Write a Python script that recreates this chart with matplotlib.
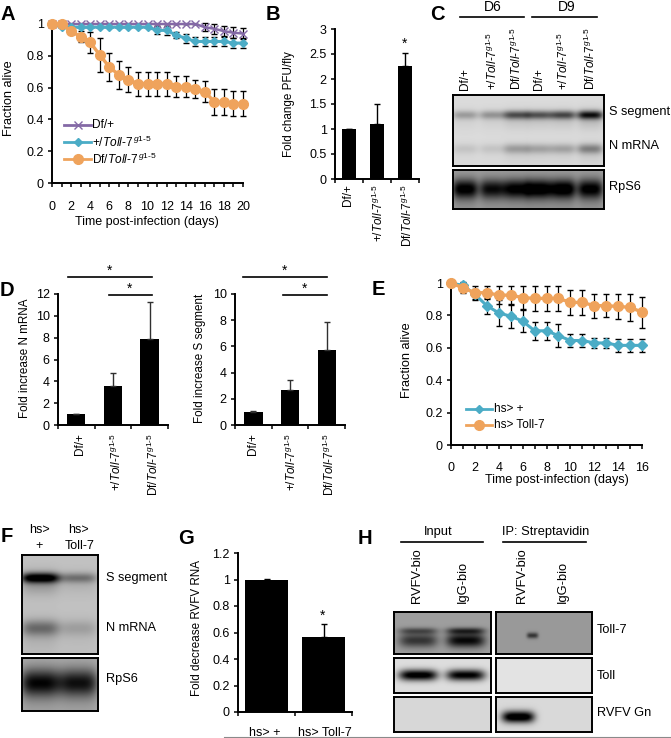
import numpy as np
import matplotlib
matplotlib.use('Agg')
import matplotlib.pyplot as plt
from matplotlib.lines import Line2D

plt.rcParams['font.family'] = ['Liberation Sans', 'DejaVu Sans']
plt.rcParams['mathtext.fontset'] = 'custom'
plt.rcParams['mathtext.rm'] = 'Liberation Sans'
plt.rcParams['mathtext.it'] = 'Liberation Sans:italic'
plt.rcParams['mathtext.bf'] = 'Liberation Sans:bold'

W, H = 671, 738

PURPLE = '#8469a6'
TEAL = '#4bacc6'
ORANGE = '#efa35c'

HET = '+/$\\mathit{Toll}$-$\\mathit{7}^{\\,g1\\text{-}5}$'
MUT = 'Df/$\\mathit{Toll}$-$\\mathit{7}^{\\,g1\\text{-}5}$'
HET2 = '+/$\\mathit{Toll}$-$\\mathit{7}^{g1\\text{-}5}$'
MUT2 = 'Df/$\\mathit{Toll}$-$\\mathit{7}^{g1\\text{-}5}$'

# panel A
days_a = list(range(21))
a_ctrl = [1]*16 + [.98, .97, .955, .945, .94]
a_ctrl_err = [0]*16 + [.025, .03, .03, .035, .035]
a_het = [1, .98, .98, .98, .98, .98, .98, .98, .98, .98, .98, .96, .96, .93, .91, .89, .89, .89, .89, .88, .88]
a_het_err = [0]*11 + [.025, .03, .02, .03, .03, .03, .03, .03, .03, .03]
a_mut = [1, 1, .955, .92, .885, .805, .73, .68, .65, .625, .625, .625, .625, .605, .605, .59, .575, .51, .51, .5, .5]
a_mut_err = [0, 0, .02, .035, .065, .11, .09, .09, .08, .075, .075, .075, .075, .065, .065, .055, .065, .08, .08, .08, .08]

# panel B
cats = ['Df/+', HET2, MUT2]
b_vals = [1.0, 1.1, 2.27]
b_err = [0.01, 0.4, 0.25]

# panel D
d1_vals = [1.0, 3.55, 7.9]
d1_err = [0.05, 1.25, 3.4]
d2_vals = [1.0, 2.65, 5.75]
d2_err = [0.05, 0.75, 2.1]

# panel E
days_e = list(range(17))
e_ctrl = [1, .985, .93, .86, .815, .795, .765, .705, .705, .675, .645, .645, .63, .63, .615, .615, .615]
e_ctrl_err = [0, .02, .035, .05, .08, .07, .07, .055, .055, .07, .04, .04, .03, .03, .04, .04, .04]
e_toll = [1, .97, .94, .94, .925, .925, .91, .905, .905, .905, .88, .88, .86, .86, .855, .85, .82]
e_toll_err = [0, .03, .04, .04, .055, .055, .07, .075, .075, .075, .075, .075, .075, .07, .08, .085, .095]

# panel G
g_cats = ['hs> +', 'hs> Toll-7']
g_vals = [1.0, 0.565]
g_err = [0.003, 0.1]

# blots: band strength per lane
c_lanes = [.08, .26, .42, .57, .73, .91]
c_s_band = [.22, .25, .5, .48, .52, .72]
c_n_band = [.08, .08, .22, .2, .2, .32]
c_rps6 = [.62, .55, .62, .68, .68, .62]
f_lanes = [.24, .74]
f_s_band = [.8, .28]
f_n_band = [.3, .12]
f_rps6 = [.62, .58]
h_lanes = [.25, .74]
h_toll7_in = [.42, .6]
h_toll_in = [.95, .9]


def box(l, t, r, b):
    return fig.add_axes([l/W, 1-b/H, (r-l)/W, (b-t)/H])


def T(x, y, s, size=9, ha='center', va='center', **kw):
    return fig.text(x/W, 1-y/H, s, fontsize=size, ha=ha, va=va, **kw)


def hline(x0, x1, y, lw=1.2, color='black'):
    fig.add_artist(Line2D([x0/W, x1/W], [1-y/H, 1-y/H], color=color, lw=lw))


def style(ax):
    ax.spines['top'].set_visible(False)
    ax.spines['right'].set_visible(False)
    ax.spines['left'].set_linewidth(1.4)
    ax.spines['bottom'].set_linewidth(1.4)
    ax.tick_params(width=1.1, length=3, labelsize=9, pad=3)
    ax.patch.set_alpha(0)


def curve(ax, x, y, err, color, marker, ms, lw=2.2):
    ax.errorbar(x, y, yerr=err, color=color, lw=lw, marker=marker, ms=ms, mew=1,
                ecolor='black', elinewidth=0.9, capsize=2.4, capthick=0.9, clip_on=False, zorder=3)


def bars(ax, vals, err, width, ecolor='black'):
    x = np.arange(len(vals)) + 0.5
    ax.bar(x, vals, width=width, color='black')
    ax.errorbar(x, vals, yerr=[[0]*len(vals), err], fmt='none', ecolor=ecolor,
                elinewidth=1.0, capsize=2.2, capthick=1.0)
    ax.set_xlim(0, len(vals))
    ax.set_xticks(range(len(vals)+1))
    ax.set_xticklabels([])
    style(ax)


def blot(pos, bg, lanes, bands, lane_w=.07, blur=0.0):
    # bands: list of (y fraction, thickness, strengths per lane)
    l, t, r, b = pos
    ax = box(l, t, r, b)
    nx, ny = int(r-l)*2, int(b-t)*2
    xx, yy = np.meshgrid(np.linspace(0, 1, nx), np.linspace(0, 1, ny))
    img = np.full(xx.shape, float(bg))
    for yc, th, vals in bands:
        for xc, v in zip(lanes, vals):
            xp = np.exp(-(np.abs(xx-xc)/lane_w)**4)
            yp = np.exp(-((yy-yc)/th)**2)
            img -= v*xp*yp
            if blur:
                img -= blur*v*xp*np.exp(-((yy-yc-th)/(th*2.4))**2)
    ax.imshow(np.clip(img, 0, 1), cmap='gray', vmin=0, vmax=1, aspect='auto', extent=[0, 1, 1, 0],
              interpolation='bilinear')
    ax.set_xticks([])
    ax.set_yticks([])
    for s in ax.spines.values():
        s.set_linewidth(1.4)
    return ax


fig = plt.figure(figsize=(W/100, H/100), dpi=100)

for x, y, s in [(8, 15, 'A'), (273, 15, 'B'), (437, 15, 'C'), (7, 290, 'D'), (378, 289, 'E'),
                (7, 537, 'F'), (186, 538, 'G'), (365, 538, 'H')]:
    T(x, y, s, size=14.5, weight='bold')

# A
ax = box(52, 24, 243, 183)
curve(ax, days_a, a_ctrl, a_ctrl_err, PURPLE, 'x', 5.5, lw=1.8)
curve(ax, days_a, a_het, a_het_err, TEAL, 'D', 4.5)
curve(ax, days_a, a_mut, a_mut_err, ORANGE, 'o', 7, lw=2.4)
ax.set_xlim(0, 20)
ax.set_ylim(0, 1)
ax.set_xticks(range(0, 21, 2))
ax.set_xticks(range(21), minor=True)
ax.set_yticks([0, .2, .4, .6, .8, 1])
ax.set_yticklabels(['0', '0.2', '0.4', '0.6', '0.8', '1'])
style(ax)
ax.tick_params(which='minor', width=1.1, length=3)
ax.tick_params(axis='x', pad=10)
T(9, 98, 'Fraction alive', size=9.2, rotation=90)
T(147, 222, 'Time post-infection (days)')
leg_a = [(125, 'Df/+', PURPLE, 'x', 5.5), (142, HET, TEAL, 'D', 4.5), (159, MUT, ORANGE, 'o', 7)]
for y, s, c, m, ms in leg_a:
    fig.add_artist(Line2D([64/W, 91/W], [1-y/H]*2, color=c, lw=2, marker=None))
    fig.add_artist(Line2D([77.5/W], [1-y/H], color=c, marker=m, ms=ms, mew=1))
    T(92, y, s, ha='left', size=8.6)

# B
ax = box(335, 29, 419, 179)
bars(ax, b_vals, b_err, 0.5)
ax.set_ylim(0, 3)
ax.set_yticks([0, .5, 1, 1.5, 2, 2.5, 3])
ax.set_yticklabels(['0', '0.5', '1', '1.5', '2', '2.5', '3'])
T(289, 104, 'Fold change PFU/fly', size=8.4, rotation=90)
for x, s in zip([348, 378, 407], cats):
    T(x, 184, s, size=8.5, rotation=90, va='top')
T(405, 44, '*', size=10)

# C
T(493, 7, 'D6', size=10)
T(567, 7, 'D9', size=10)
hline(460, 524, 17)
hline(532, 597, 17)
for x, s in zip([465, 492, 516, 539, 563, 590], cats*2):
    T(x, 90, s, size=8.5, rotation=90, va='bottom')
blot((453, 95, 604, 166), .86, c_lanes, [(.28, .06, c_s_band), (.76, .07, c_n_band)], lane_w=.085, blur=.18)
blot((453, 170, 604, 209), .62, c_lanes, [(.5, .24, c_rps6)], lane_w=.085, blur=.1)
T(609, 112, 'S segment', ha='left', size=9.2)
T(609, 146, 'N mRNA', ha='left', size=9.2)
T(609, 187, 'RpS6', ha='left', size=9.2)

# D
ax = box(58, 294, 168, 425)
bars(ax, d1_vals, d1_err, 0.5, ecolor='#303030')
ax.set_ylim(0, 12)
ax.set_yticks(range(0, 13, 2))
T(25, 358, 'Fold increase N mRNA', size=8.4, rotation=90)
for x, s in zip([80, 116, 153], cats):
    T(x, 433, s, size=8.5, rotation=90, va='top')
hline(68, 152, 277)
hline(109, 152, 295)
T(110, 271, '*', size=10)
T(130, 289, '*', size=10)

ax = box(235, 294, 345, 425)
bars(ax, d2_vals, d2_err, 0.5, ecolor='#303030')
ax.set_ylim(0, 10)
ax.set_yticks(range(0, 11, 2))
T(200, 358, 'Fold increase S segment', size=8.4, rotation=90)
for x, s in zip([253, 291, 329], cats):
    T(x, 433, s, size=8.5, rotation=90, va='top')
hline(243, 327, 277)
hline(283, 327, 295)
T(285, 271, '*', size=10)
T(305, 289, '*', size=10)

# E
ax = box(451, 283, 642, 445)
curve(ax, days_e, e_ctrl, e_ctrl_err, TEAL, 'D', 5)
curve(ax, days_e, e_toll, e_toll_err, ORANGE, 'o', 7, lw=2.4)
ax.set_xlim(0, 16)
ax.set_ylim(0, 1)
ax.set_xticks(range(0, 17, 2))
ax.set_xticks(range(17), minor=True)
ax.set_yticks([0, .2, .4, .6, .8, 1])
ax.set_yticklabels(['0', '0.2', '0.4', '0.6', '0.8', '1'])
style(ax)
ax.tick_params(which='minor', width=1.1, length=3)
ax.tick_params(axis='x', pad=9)
T(407, 360, 'Fraction alive', size=9.2, rotation=90)
T(557, 480, 'Time post-infection (days)')
for y, s, c, m, ms in [(409, 'hs> +', TEAL, 'D', 4.5), (425, 'hs> Toll-7', ORANGE, 'o', 7)]:
    fig.add_artist(Line2D([466/W, 492/W], [1-y/H]*2, color=c, lw=2))
    fig.add_artist(Line2D([479/W], [1-y/H], color=c, marker=m, ms=ms, mew=1))
    T(494, y, s, ha='left', size=8.5)

# F
T(39, 530, 'hs>', size=9)
T(39, 546, '+', size=9)
T(78, 530, 'hs>', size=9)
T(80, 546, 'Toll-7', size=9)
blot((22, 555, 98, 654), .76, f_lanes, [(.23, .05, f_s_band), (.74, .08, f_n_band)], lane_w=.25, blur=.22)
blot((22, 658, 98, 711), .68, f_lanes, [(.47, .26, f_rps6)], lane_w=.26, blur=.1)
T(106, 578, 'S segment', ha='left', size=9.2)
T(106, 628, 'N mRNA', ha='left', size=9.2)
T(106, 679, 'RpS6', ha='left', size=9.2)

# G
ax = box(238, 553, 352, 712)
bars(ax, g_vals, g_err, 0.74)
ax.set_ylim(0, 1.2)
ax.set_yticks([0, .2, .4, .6, .8, 1, 1.2])
ax.set_yticklabels(['0', '0.2', '0.4', '0.6', '0.8', '1', '1.2'])
T(197, 628, 'Fold decrease RVFV RNA', size=8.4, rotation=90)
T(265, 733, g_cats[0], size=9)
T(325, 733, g_cats[1], size=9)
T(323, 616, '*', size=10)
hline(224, 671, 737, lw=0.8, color='#8a8a8a')

# H
T(438, 532, 'Input', size=9.3)
T(546, 532, 'IP: Streptavidin', size=9.3)
hline(401, 483, 542)
hline(503, 586, 542)
for x, s in zip([417, 463, 522, 563], ['RVFV-bio', 'IgG-bio']*2):
    T(x, 603, s, size=9.3, rotation=90, va='bottom')
blot((394, 612, 491, 654), .62, h_lanes, [(.45, .08, [v*.7 for v in h_toll7_in]), (.68, .17, h_toll7_in)], lane_w=.2)
blot((496, 612, 592, 654), .6, [.38], [(.56, .07, [.4])], lane_w=.06)
blot((394, 658, 491, 693), .87, h_lanes, [(.49, .16, h_toll_in)], lane_w=.2)
blot((496, 658, 592, 693), .89, [.5], [(.5, .1, [0])])
blot((394, 697, 491, 732), .84, [.5], [(.5, .1, [0])])
blot((496, 697, 592, 732), .85, [.23], [(.57, .17, [1.0])], lane_w=.17)
T(597, 630, 'Toll-7', ha='left', size=9.2)
T(597, 676, 'Toll', ha='left', size=9.2)
T(597, 713, 'RVFV Gn', ha='left', size=9.2)

fig.savefig('out.png', dpi=100)
